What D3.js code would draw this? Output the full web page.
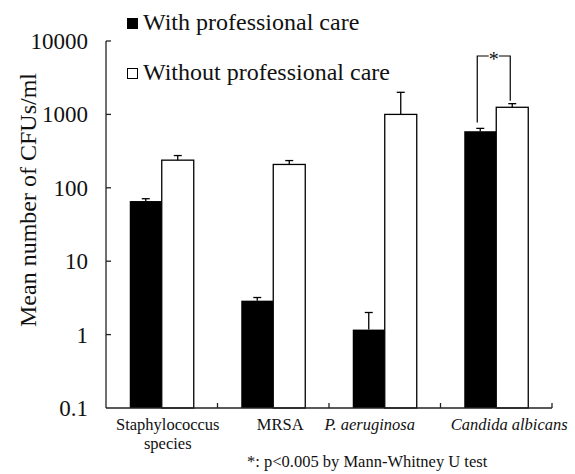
<!DOCTYPE html>
<html>
<head>
<meta charset="utf-8">
<script src="https://cdn.jsdelivr.net/npm/d3@7"></script>
<style>
  body { margin: 0; background: #fff; }
  text { font-family: "Liberation Serif", "Times New Roman", serif; fill: #111; }
</style>
</head>
<body>
<div id="chart"></div>
<script>
// data
const categories = ["Staphylococcus species", "MRSA", "P. aeruginosa", "Candida albicans"];
const withCare = [66, 2.9, 1.17, 590];
const withCareErr = [71, 3.2, 2.0, 645];
const withoutCare = [238, 208, 1000, 1250];
const withoutCareErr = [275, 235, 2000, 1400];
const yTicks = [0.1, 1, 10, 100, 1000, 10000];
const yTickLabels = ["0.1", "1", "10", "100", "1000", "10000"];

const width = 575, height = 474;
const margin = { top: 41, right: 23, bottom: 66, left: 106 };
// labels under the axis are not quite centred on the bars
const labelShift = [6, 7, -15, 13];

const svg = d3.select("#chart").append("svg")
  .attr("width", width).attr("height", height);

const x = d3.scaleBand().domain(categories)
  .range([margin.left, width - margin.right]).padding(0);
const y = d3.scaleLog().domain([0.1, 10000])
  .range([height - margin.bottom, margin.top]);

const barW = 32;
const y0 = y(0.1);

// bars
const groups = svg.selectAll(".grp").data(categories).enter().append("g");

groups.append("rect")
  .attr("x", (d) => x(d) + x.bandwidth() / 2 - barW)
  .attr("y", (d, i) => y(withCare[i]))
  .attr("width", barW)
  .attr("height", (d, i) => y0 - y(withCare[i]))
  .attr("fill", "#000");

groups.append("rect")
  .attr("x", (d) => x(d) + x.bandwidth() / 2)
  .attr("y", (d, i) => y(withoutCare[i]))
  .attr("width", barW)
  .attr("height", (d, i) => y0 - y(withoutCare[i]))
  .attr("fill", "#fff").attr("stroke", "#000").attr("stroke-width", 1.3);

// error bars (upward only)
function errBar(cx, v, e) {
  const g = svg.append("g").attr("stroke", "#000").attr("stroke-width", 1.3);
  g.append("line").attr("x1", cx).attr("x2", cx).attr("y1", y(v)).attr("y2", y(e));
  g.append("line").attr("x1", cx - 4).attr("x2", cx + 4).attr("y1", y(e)).attr("y2", y(e));
}
categories.forEach(function (c, i) {
  const cx = x(c) + x.bandwidth() / 2;
  errBar(cx - barW / 2, withCare[i], withCareErr[i]);
  errBar(cx + barW / 2, withoutCare[i], withoutCareErr[i]);
});

// y axis
const yAxis = svg.append("g").attr("stroke", "#222").attr("stroke-width", 1.3);
yAxis.append("line").attr("x1", margin.left).attr("x2", margin.left)
  .attr("y1", y(10000)).attr("y2", y0);
yTicks.forEach(function (t, i) {
  if (t !== 0.1) {
    yAxis.append("line").attr("x1", margin.left).attr("x2", margin.left + 5)
      .attr("y1", y(t)).attr("y2", y(t));
  }
  svg.append("text").attr("x", 88).attr("y", y(t)).attr("dy", "0.35em")
    .attr("text-anchor", "end").style("font-size", "23px").text(yTickLabels[i]);
});

// x axis
const xAxis = svg.append("g").attr("stroke", "#222").attr("stroke-width", 1.3);
xAxis.append("line").attr("x1", margin.left).attr("x2", width - margin.right)
  .attr("y1", y0).attr("y2", y0);
categories.forEach(function (c) {
  const xe = x(c) + x.bandwidth();
  xAxis.append("line").attr("x1", xe).attr("x2", xe).attr("y1", y0).attr("y2", y0 - 5);
});

// category labels
const labelY = 430;
categories.forEach(function (c, i) {
  const cx = x(c) + x.bandwidth() / 2 + labelShift[i];
  const t = svg.append("text").attr("x", cx).attr("y", labelY)
    .attr("text-anchor", "middle").style("font-size", "16.5px");
  if (i === 0) {
    t.append("tspan").attr("x", cx).text("Staphylococcus");
    t.append("tspan").attr("x", cx).attr("dy", 19).text("species");
  } else {
    t.text(c).style("font-style", i >= 2 ? "italic" : "normal");
  }
});

// y title
svg.append("text")
  .attr("transform", "translate(36,200) rotate(-90)")
  .attr("text-anchor", "middle").style("font-size", "24px")
  .text("Mean number of CFUs/ml");

// legend
svg.append("rect").attr("x", 127).attr("y", 18).attr("width", 11).attr("height", 11).attr("fill", "#000");
svg.append("text").attr("x", 143).attr("y", 30).style("font-size", "24px").text("With professional care");
svg.append("rect").attr("x", 127.5).attr("y", 68.5).attr("width", 10).attr("height", 10)
  .attr("fill", "#fff").attr("stroke", "#000").attr("stroke-width", 1);
svg.append("text").attr("x", 143).attr("y", 80).style("font-size", "24px").text("Without professional care");

// significance bracket
const cc = x("Candida albicans") + x.bandwidth() / 2;
const bx1 = cc - barW / 2 - 3, bx2 = cc + barW / 2 - 2;
const by = 56;
svg.append("path")
  .attr("d", `M${bx1},${y(withCareErr[3]) - 6}V${by}H${(bx1 + bx2) / 2 - 5}M${(bx1 + bx2) / 2 + 5},${by}H${bx2}V${y(withoutCareErr[3]) - 3}`)
  .attr("fill", "none").attr("stroke", "#000").attr("stroke-width", 1.2);
svg.append("text").attr("x", (bx1 + bx2) / 2).attr("y", by + 10)
  .attr("text-anchor", "middle").style("font-size", "20px").text("*");

// footnote
svg.append("text").attr("x", 247).attr("y", 467).style("font-size", "16.5px")
  .text("*: p<0.005 by Mann-Whitney U test");
</script>
</body>
</html>
